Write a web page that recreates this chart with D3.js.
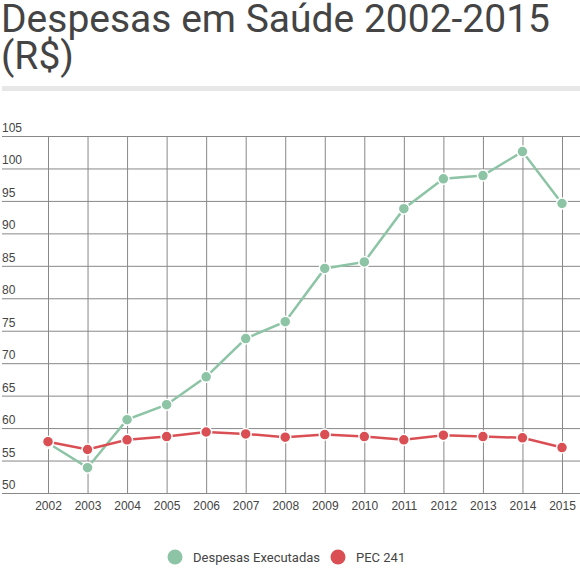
<!DOCTYPE html>
<html>
<head>
<meta charset="utf-8">
<script src="https://cdn.jsdelivr.net/npm/d3@7"></script>
<style>
	body { margin: 0; background: #fff; }
	svg { display: block; font-family: Roboto, "Noto Sans", sans-serif; }
	.axis text { font-size: 12px; fill: #444; }
	.axis line { stroke: #888; stroke-width: 1; }
	.legend text { font-size: 13px; fill: #444; }
</style>
</head>
<body>
<svg id="chart"></svg>
<script>
// Data
const years = [2002, 2003, 2004, 2005, 2006, 2007, 2008, 2009, 2010, 2011, 2012, 2013, 2014, 2015];
const despesas = [57.7, 53.9, 61.3, 63.6, 67.9, 73.8, 76.4, 84.6, 85.6, 93.8, 98.4, 98.9, 102.6, 94.6];
const pec241 = [57.9, 56.7, 58.2, 58.7, 59.4, 59.1, 58.6, 59.0, 58.7, 58.2, 58.9, 58.7, 58.5, 57.0];
const yTicks = [50, 55, 60, 65, 70, 75, 80, 85, 90, 95, 100, 105];
const seriesNames = ["Despesas Executadas", "PEC 241"];
const seriesColors = ["#8dc4a5", "#da4f54"];

const svgWidth = 580;
const svgHeight = 575;
const margin = {top: 136, right: 18, bottom: 82, left: 48};

const svg = d3.select("#chart")
	.attr("width", svgWidth)
	.attr("height", svgHeight);

// Title
const title = svg.append("g").attr("fill", "#444").style("font-size", "39px");
title.append("text").attr("x", 1).attr("y", 32).text("Despesas em Saúde 2002-2015");
title.append("text").attr("x", 1).attr("y", 69).text("(R$)");

// grey divider
svg.append("rect")
	.attr("x", 2).attr("y", 86)
	.attr("width", svgWidth - 2).attr("height", 5)
	.attr("fill", "#e7e7e7");

// Scales
const x = d3.scalePoint()
	.domain(years)
	.range([margin.left, svgWidth - margin.right]);
const y = d3.scaleLinear()
	.domain([50, 105])
	.range([svgHeight - margin.bottom, margin.top]);

// y grid + labels
svg.append("g")
	.attr("class", "axis y")
	.attr("transform", "translate(2,0)")
	.call(d3.axisLeft(y).tickValues(yTicks).tickSizeInner(-(svgWidth - 2)).tickSizeOuter(0))
	.call(g => g.select(".domain").remove())
	.call(g => g.selectAll("text")
		.attr("x", 0)
		.attr("dy", -4.5)
		.attr("text-anchor", "start"));

// x grid + labels
svg.append("g")
	.attr("class", "axis x")
	.attr("transform", "translate(0," + y(50) + ")")
	.call(d3.axisBottom(x).tickSizeInner(-(y(50) - y(105))).tickSizeOuter(0))
	.call(g => g.select(".domain").remove())
	.call(g => g.selectAll("text").attr("y", 8.5));

// Lines and dots
const line = d3.line()
	.x((d, i) => x(years[i]))
	.y(d => y(d));

[despesas, pec241].forEach((values, s) => {
	svg.append("path")
		.datum(values)
		.attr("fill", "none")
		.attr("stroke", seriesColors[s])
		.attr("stroke-width", 2.5)
		.attr("d", line);

	svg.append("g")
		.selectAll("circle")
		.data(values)
		.enter().append("circle")
			.attr("cx", (d, i) => x(years[i]))
			.attr("cy", d => y(d))
			.attr("r", 5.5)
			.attr("fill", seriesColors[s])
			.attr("stroke", "#fff")
			.attr("stroke-width", 1.5);
});

// Legend
const legendX = [175, 338];
const legend = svg.append("g").attr("class", "legend");
legend.selectAll("circle")
	.data(seriesNames)
	.enter().append("circle")
		.attr("cx", (d, i) => legendX[i])
		.attr("cy", 557)
		.attr("r", 7.5)
		.attr("fill", (d, i) => seriesColors[i]);
legend.selectAll("text")
	.data(seriesNames)
	.enter().append("text")
		.attr("x", (d, i) => legendX[i] + 18)
		.attr("y", 561.5)
		.text(d => d);
</script>
</body>
</html>
